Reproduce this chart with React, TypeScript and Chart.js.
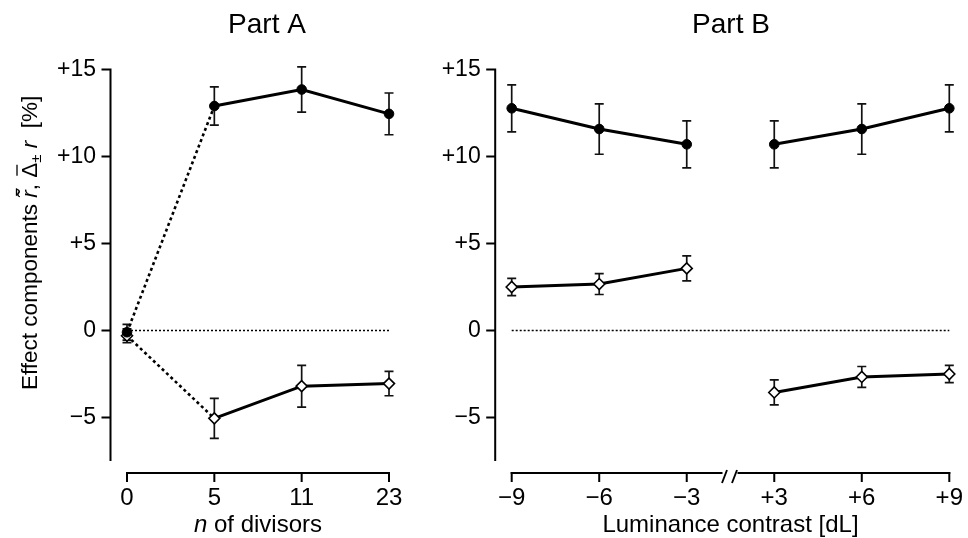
import React, { useEffect, useRef } from 'react';
import { Chart, registerables } from 'chart.js';

Chart.register(...registerables);

// ---------- data ----------
const yTickValues = [-5, 0, 5, 10, 15];
const yTickLabels = ['−5', '0', '+5', '+10', '+15'];
const yMin = -7.5;
const yMax = 15;

const partACategories = ['0', '5', '11', '23'];
const partAFilled = [-0.1, 12.9, 13.85, 12.45];
const partAFilledErr = [0.45, 1.1, 1.3, 1.2];
const partAOpen = [-0.3, -5.05, -3.2, -3.05];
const partAOpenErr = [0.4, 1.15, 1.2, 0.7];
const partAZero = [0, 0, 0, 0];

const partBCategories = ['−9', '−6', '−3', '+3', '+6', '+9'];
const partBFilled = [12.77, 11.58, 10.7, 10.7, 11.58, 12.77];
const partBFilledErr = [1.35, 1.45, 1.35, 1.35, 1.45, 1.35];
const partBOpen = [2.5, 2.67, 3.57, -3.56, -2.67, -2.5];
const partBOpenErr = [0.5, 0.6, 0.72, 0.72, 0.6, 0.5];
const partBZero = [0, 0, 0, 0, 0, 0];

// ---------- styling ----------
const FONT = '"Liberation Sans", Arial, Helvetica, sans-serif';
const INK = '#000';

type DecorOpts = {
  title: string;
  titleX: number;
  xTitleItalic: string;
  xTitle: string;
  yTitle: boolean;
  xBreak: boolean;
};

function makeDecor(o: DecorOpts) {
  return {
    id: 'decor',
    beforeDatasetsDraw(chart: any) {
      const ctx = chart.ctx;
      const xs = chart.scales.x;
      const ys = chart.scales.y;
      ctx.save();
      ctx.strokeStyle = '#111';
      ctx.lineWidth = 1.7;
      chart.data.datasets.forEach((ds: any) => {
        if (!ds.errors) return;
        ds.data.forEach((v: number | null, i: number) => {
          const e = ds.errors[i];
          if (v == null || e == null) return;
          const x = xs.getPixelForValue(i);
          const y1 = ys.getPixelForValue(v + e);
          const y2 = ys.getPixelForValue(v - e);
          ctx.beginPath();
          ctx.moveTo(x, y1);
          ctx.lineTo(x, y2);
          ctx.moveTo(x - 4.5, y1);
          ctx.lineTo(x + 4.5, y1);
          ctx.moveTo(x - 4.5, y2);
          ctx.lineTo(x + 4.5, y2);
          ctx.stroke();
        });
      });
      ctx.restore();
    },
    afterDraw(chart: any) {
      const ctx = chart.ctx;
      const xs = chart.scales.x;
      const ys = chart.scales.y;
      const area = chart.chartArea;
      ctx.save();
      ctx.strokeStyle = INK;
      ctx.fillStyle = INK;
      ctx.lineWidth = 2;
      ctx.lineCap = 'butt';

      // y spine + ticks
      const sx = area.left - 16.5;
      ctx.beginPath();
      ctx.moveTo(sx, ys.getPixelForValue(yMax));
      ctx.lineTo(sx, ys.getPixelForValue(yMin));
      yTickValues.forEach((v) => {
        const y = ys.getPixelForValue(v);
        ctx.moveTo(sx - 9, y);
        ctx.lineTo(sx + 1, y);
      });
      ctx.stroke();

      // x spine + ticks
      const n = chart.data.labels.length;
      const sy = area.bottom + 12;
      const x0 = xs.getPixelForValue(0);
      const x1 = xs.getPixelForValue(n - 1);
      ctx.beginPath();
      if (o.xBreak) {
        const mid = (xs.getPixelForValue(n / 2 - 1) + xs.getPixelForValue(n / 2)) / 2;
        ctx.moveTo(x0 - 1, sy);
        ctx.lineTo(mid - 8, sy);
        ctx.moveTo(mid + 7, sy);
        ctx.lineTo(x1 + 1, sy);
        ctx.stroke();
        ctx.beginPath();
        ctx.lineWidth = 1.9;
        ctx.moveTo(mid - 8.5, sy + 10);
        ctx.lineTo(mid - 3.5, sy - 3);
        ctx.moveTo(mid + 1.5, sy + 10);
        ctx.lineTo(mid + 6.5, sy - 3);
        ctx.stroke();
        ctx.lineWidth = 2;
        ctx.beginPath();
      } else {
        ctx.moveTo(x0 - 1, sy);
        ctx.lineTo(x1 + 1, sy);
      }
      for (let i = 0; i < n; i++) {
        const x = xs.getPixelForValue(i);
        ctx.moveTo(x, sy - 1);
        ctx.lineTo(x, sy + 9);
      }
      ctx.stroke();

      // panel title
      ctx.textBaseline = 'alphabetic';
      ctx.textAlign = 'center';
      ctx.font = `28px ${FONT}`;
      ctx.fillText(o.title, o.titleX, 33);

      // x-axis title
      const cx = (x0 + x1) / 2;
      ctx.textAlign = 'left';
      ctx.font = `italic 24px ${FONT}`;
      const wi = ctx.measureText(o.xTitleItalic).width;
      ctx.font = `24px ${FONT}`;
      const wn = ctx.measureText(o.xTitle).width;
      const tx = cx - (wi + wn) / 2;
      ctx.font = `italic 24px ${FONT}`;
      ctx.fillText(o.xTitleItalic, tx, 532);
      ctx.font = `24px ${FONT}`;
      ctx.fillText(o.xTitle, tx + wi, 532);

      // y-axis title (rotated)
      if (o.yTitle) {
        ctx.save();
        ctx.translate(37, 390);
        ctx.rotate(-Math.PI / 2);
        ctx.textAlign = 'left';
        ctx.textBaseline = 'alphabetic';
        let p = 0;
        const normal = `22.5px ${FONT}`;
        const ital = `italic 22.5px ${FONT}`;
        const put = (s: string, f: string, dy = 0) => {
          ctx.font = f;
          ctx.fillText(s, p, dy);
          const w = ctx.measureText(s).width;
          p += w;
          return w;
        };
        put('Effect components ', normal);
        const rStart = p;
        const rw = put('r\u0303', ital);
        ctx.lineWidth = 1.3;
        ctx.beginPath();
        ctx.moveTo(rStart + 2, -20.5);
        ctx.lineTo(rStart + rw + 2, -20.5);
        ctx.stroke();
        put(', ', normal);
        const dStart = p;
        const dw = put('Δ', normal);
        ctx.beginPath();
        ctx.moveTo(dStart + 2, -20);
        ctx.lineTo(dStart + dw - 2, -20);
        ctx.stroke();
        put('±', `15px ${FONT}`, 4);
        put(' ', normal);
        put('r', ital);
        put('  [%]', normal);
        ctx.restore();
      }
      ctx.restore();
    },
  };
}

function axisOptions(yWidth: number, padRight: number) {
  return {
    responsive: false,
    animation: false as const,
    events: [] as any[],
    layout: { padding: { top: 69.5, right: padRight, left: 0, bottom: 0 } },
    plugins: {
      legend: { display: false },
      tooltip: { enabled: false },
      title: { display: false },
    },
    scales: {
      x: {
        type: 'category' as const,
        offset: false,
        grid: { display: false, drawTicks: false },
        border: { display: false },
        ticks: {
          autoSkip: false,
          maxRotation: 0,
          minRotation: 0,
          padding: 23,
          color: INK,
          font: { family: FONT, size: 24 },
        },
        afterFit: (s: any) => {
          s.height = 77;
        },
      },
      y: {
        type: 'linear' as const,
        min: yMin,
        max: yMax,
        grid: { display: false, drawTicks: false },
        border: { display: false },
        afterBuildTicks: (s: any) => {
          s.ticks = yTickValues.map((v) => ({ value: v }));
        },
        ticks: {
          padding: 31,
          color: INK,
          font: { family: FONT, size: 23 },
          callback: (v: any) => {
            const i = yTickValues.indexOf(Number(v));
            return i >= 0 ? yTickLabels[i] : '';
          },
        },
        afterFit: (s: any) => {
          s.width = yWidth;
        },
      },
    },
  };
}

const filledStyle = {
  borderColor: INK,
  backgroundColor: INK,
  borderWidth: 3,
  pointStyle: 'circle',
  pointRadius: 4.8,
  pointBorderWidth: 1,
  pointBackgroundColor: INK,
  pointBorderColor: INK,
  clip: false as const,
  tension: 0,
};

const openStyle = {
  borderColor: INK,
  backgroundColor: '#fff',
  borderWidth: 3,
  pointStyle: 'rectRot',
  pointRadius: 5.5,
  pointBorderWidth: 1.6,
  pointBackgroundColor: '#fff',
  pointBorderColor: INK,
  clip: false as const,
  tension: 0,
};

const zeroStyle = {
  borderColor: INK,
  borderWidth: 1.3,
  borderDash: [2, 2],
  pointRadius: 0,
  clip: false as const,
};

function buildA(): any {
  const dotted = {
    borderDash: (c: any) => (c.p0DataIndex === 0 ? [3, 3] : undefined),
    borderWidth: (c: any) => (c.p0DataIndex === 0 ? 2.6 : undefined),
  };
  return {
    type: 'line',
    data: {
      labels: partACategories,
      datasets: [
        { ...filledStyle, data: partAFilled, errors: partAFilledErr, segment: dotted },
        { ...openStyle, data: partAOpen, errors: partAOpenErr, segment: dotted },
        { ...zeroStyle, data: partAZero },
      ],
    },
    options: axisOptions(127, 51),
    plugins: [
      makeDecor({
        title: 'Part A',
        titleX: 267,
        xTitleItalic: 'n',
        xTitle: ' of divisors',
        yTitle: true,
        xBreak: false,
      }),
    ],
  };
}

function buildB(): any {
  const gap = {
    borderColor: (c: any) => (c.p0DataIndex === 2 ? 'rgba(0,0,0,0)' : undefined),
  };
  return {
    type: 'line',
    data: {
      labels: partBCategories,
      datasets: [
        { ...filledStyle, data: partBFilled, errors: partBFilledErr, segment: gap },
        { ...openStyle, data: partBOpen, errors: partBOpenErr, segment: gap },
        { ...zeroStyle, data: partBZero },
      ],
    },
    options: axisOptions(71.7, 50.7),
    plugins: [
      makeDecor({
        title: 'Part B',
        titleX: 291,
        xTitleItalic: '',
        xTitle: 'Luminance contrast [dL]',
        yTitle: false,
        xBreak: true,
      }),
    ],
  };
}

function Panel(props: { left: number; width: number; height: number; build: () => any }) {
  const ref = useRef<HTMLCanvasElement>(null);
  useEffect(() => {
    const chart = new Chart(ref.current as HTMLCanvasElement, props.build());
    return () => chart.destroy();
  }, []);
  return (
    <canvas
      ref={ref}
      width={props.width}
      height={props.height}
      style={{ position: 'absolute', left: props.left, top: 0, width: props.width, height: props.height }}
    />
  );
}

export default function App() {
  return (
    <div
      style={{
        position: 'fixed',
        left: 0,
        top: 0,
        width: 968,
        height: 538,
        overflow: 'hidden',
        background: '#fff',
      }}
    >
      <Panel left={0} width={440} height={538} build={buildA} />
      <Panel left={440} width={560} height={538} build={buildB} />
    </div>
  );
}
